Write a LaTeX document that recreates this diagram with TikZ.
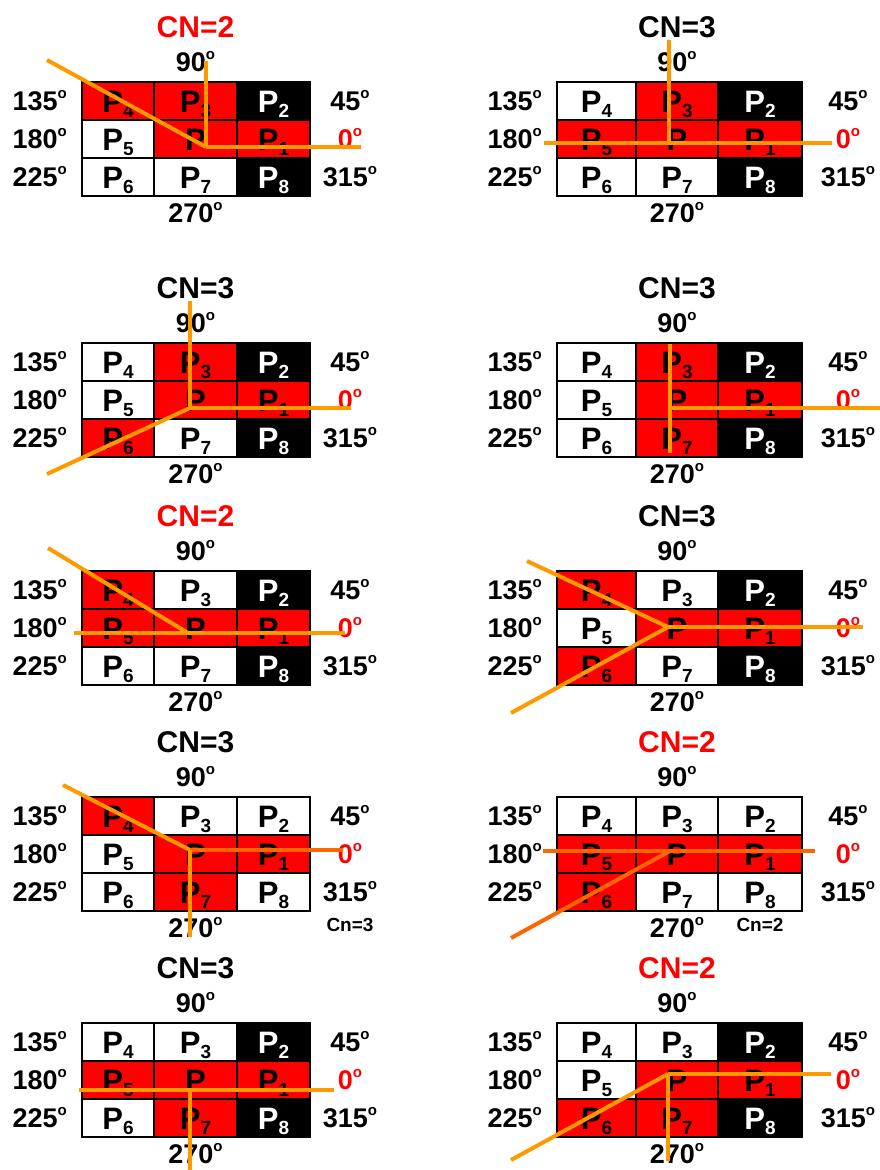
\documentclass[tikz,border=0pt]{standalone}
\usepackage{fontspec}
\setmainfont{Liberation Sans}
\usetikzlibrary{positioning}

\definecolor{orangeR}{RGB}{255,153,0}
\definecolor{orangeF}{RGB}{255,102,0}

\newcommand{\pp}[1]{P\raisebox{-5pt}{\fontsize{19}{19}\selectfont\bfseries #1}}
\newcommand{\degre}{\raisebox{12pt}{\fontsize{15}{15}\selectfont\bfseries o}}

\tikzset{
	cellule/.style={draw=black, line width=1.5pt, minimum height=38pt, inner sep=0pt, outer sep=0pt, text height=23pt, text depth=0pt, font=\fontsize{31}{31}\selectfont\bfseries},
	rouge/.style={fill=red},
	blanc/.style={fill=white},
	noir/.style={fill=black, text=white},
	etiq/.style={inner sep=0pt, font=\fontsize{27}{27}\selectfont\bfseries},
	titre/.style={inner sep=0pt, font=\fontsize{30}{30}\selectfont\bfseries},
	petit/.style={inner sep=0pt, font=\fontsize{19}{19}\selectfont\bfseries},
	rayon/.style={line width=4pt, draw=orangeR},
	rayonfonce/.style={line width=4pt, draw=orangeF},
	gauche/.code={\def\wa{72pt}\def\wb{83pt}\def\wc{73pt}\def\we{40pt}},
	droite/.code={\def\wa{79pt}\def\wb{82pt}\def\wc{84pt}\def\we{46pt}},
}

% une grille 3x3 avec ses angles
\newcommand{\grille}[9]{%
	\node[cellule, #1, minimum width=\wa, anchor=north west] (p4) at (0,0) {\pp{4}};
	\node[cellule, #2, minimum width=\wb, right=0pt of p4] (p3) {\pp{3}};
	\node[cellule, #3, minimum width=\wc, right=0pt of p3] (p2) {\pp{2}};
	\node[cellule, #4, minimum width=\wa, below=0pt of p4] (p5) {\pp{5}};
	\node[cellule, #5, minimum width=\wb, right=0pt of p5] (p0) {P};
	\node[cellule, #6, minimum width=\wc, right=0pt of p0] (p1) {\pp{1}};
	\node[cellule, #7, minimum width=\wa, below=0pt of p5] (p6) {\pp{6}};
	\node[cellule, #8, minimum width=\wb, right=0pt of p6] (p7) {\pp{7}};
	\node[cellule, #9, minimum width=\wc, right=0pt of p7] (p8) {\pp{8}};
	\node[etiq, left=15pt of p4] (a135) {135\degre};
	\node[etiq, left=15pt of p5] (a180) {180\degre};
	\node[etiq, left=15pt of p6] (a225) {225\degre};
	\node[etiq, right=\we of p2, anchor=center] (a45) {45\degre};
	\node[etiq, right=\we of p1, anchor=center, text=red] (a0) {0\degre};
	\node[etiq, right=\we of p8, anchor=center] (a315) {315\degre};
	\node[etiq, above=20pt of p3, anchor=center] (a90) {90\degre};
	\node[etiq, below=17pt of p7, anchor=center] (a270) {270\degre};
}

\begin{document}
\begin{tikzpicture}[x=1pt, y=-1pt]
	\useasboundingbox (0,0) rectangle (880,1170);
	% ligne 1
	\begin{scope}[shift={(82,82)}, gauche, name prefix=a-]
		\grille{rouge}{rouge}{noir}{blanc}{rouge}{rouge}{blanc}{blanc}{noir}
		\node[titre, text=red, above=55pt of p3, anchor=center] (cn) {CN=2};
		\coordinate (v) at (124,65);
		\coordinate (haut) at (124,-21);
		\coordinate (est) at (279,65);
		\coordinate (no) at (-35,-22);
		\draw[rayon] (no) -- (v);
		\draw[rayon] (v) -- (est);
		\draw[rayon] (v) -- (haut);
	\end{scope}
	\begin{scope}[shift={(557,82)}, droite, name prefix=b-]
		\grille{blanc}{rouge}{noir}{rouge}{rouge}{rouge}{blanc}{blanc}{noir}
		\node[titre, above=55pt of p3, anchor=center] (cn) {CN=3};
		\coordinate (v) at (112,61);
		\coordinate (haut) at (112,-42);
		\coordinate (ouest) at (-13,61);
		\coordinate (est) at (275,61);
		\draw[rayon] (ouest) -- (est);
		\draw[rayon] (v) -- (haut);
	\end{scope}
	% ligne 2
	\begin{scope}[shift={(82,343)}, gauche, name prefix=c-]
		\grille{blanc}{rouge}{noir}{blanc}{rouge}{rouge}{rouge}{blanc}{noir}
		\node[titre, above=55pt of p3, anchor=center] (cn) {CN=3};
		\coordinate (v) at (108,65);
		\coordinate (haut) at (108,-42);
		\coordinate (est) at (269,65);
		\coordinate (so) at (-35,131);
		\draw[rayon] (v) -- (haut);
		\draw[rayon] (v) -- (est);
		\draw[rayon] (so) -- (v);
	\end{scope}
	\begin{scope}[shift={(557,343)}, droite, name prefix=d-]
		\grille{blanc}{rouge}{noir}{blanc}{rouge}{rouge}{blanc}{rouge}{noir}
		\node[titre, above=55pt of p3, anchor=center] (cn) {CN=3};
		\coordinate (v) at (113,65);
		\coordinate (haut) at (113,1);
		\coordinate (bas) at (113,110);
		\coordinate (est) at (323,65);
		\draw[rayon] (haut) -- (bas);
		\draw[rayon] (v) -- (est);
	\end{scope}
	% ligne 3
	\begin{scope}[shift={(82,571)}, gauche, name prefix=e-]
		\grille{rouge}{blanc}{noir}{rouge}{rouge}{rouge}{blanc}{blanc}{noir}
		\node[titre, text=red, above=55pt of p3, anchor=center] (cn) {CN=2};
		\coordinate (v) at (106,62);
		\coordinate (no) at (-34,-23);
		\coordinate (ouest) at (-8,62);
		\coordinate (est) at (263,62);
		\draw[rayon] (no) -- (v);
		\draw[rayon] (ouest) -- (est);
	\end{scope}
	\begin{scope}[shift={(557,571)}, droite, name prefix=f-]
		\grille{rouge}{blanc}{noir}{blanc}{rouge}{rouge}{rouge}{blanc}{noir}
		\node[titre, above=55pt of p3, anchor=center] (cn) {CN=3};
		\coordinate (v) at (111,56);
		\coordinate (no) at (-30,-10);
		\coordinate (est) at (306,56);
		\coordinate (so) at (-46,142);
		\draw[rayon] (no) -- (v);
		\draw[rayon] (v) -- (est);
		\draw[rayon] (so) -- (v);
	\end{scope}
	% ligne 4
	\begin{scope}[shift={(82,797)}, gauche, name prefix=g-]
		\grille{rouge}{blanc}{blanc}{blanc}{rouge}{rouge}{blanc}{rouge}{blanc}
		\node[titre, above=55pt of p3, anchor=center] (cn) {CN=3};
		\node[petit] (cnbas) at (268,128) {Cn=3};
		\coordinate (v) at (108,53);
		\coordinate (no) at (-19,-12);
		\coordinate (est) at (261,53);
		\coordinate (bas) at (108,140);
		\draw[rayon] (no) -- (v);
		\draw[rayonfonce] (v) -- (est);
		\draw[rayon] (v) -- (bas);
	\end{scope}
	\begin{scope}[shift={(557,797)}, droite, name prefix=h-]
		\grille{blanc}{blanc}{blanc}{rouge}{rouge}{rouge}{rouge}{blanc}{blanc}
		\node[titre, text=red, above=55pt of p3, anchor=center] (cn) {CN=2};
		\node[petit] (cnbas) at (203,128) {Cn=2};
		\coordinate (v) at (113,54);
		\coordinate (ouest) at (-14,54);
		\coordinate (est) at (258,54);
		\coordinate (so) at (-46,141);
		\draw[rayonfonce] (ouest) -- (est);
		\draw[rayonfonce] (so) -- (v);
	\end{scope}
	% ligne 5
	\begin{scope}[shift={(82,1023)}, gauche, name prefix=i-]
		\grille{blanc}{blanc}{noir}{rouge}{rouge}{rouge}{blanc}{rouge}{noir}
		\node[titre, above=55pt of p3, anchor=center] (cn) {CN=3};
		\coordinate (v) at (108,67);
		\coordinate (ouest) at (-3,67);
		\coordinate (est) at (252,67);
		\coordinate (bas) at (108,147);
		\draw[rayon] (ouest) -- (est);
		\draw[rayon] (v) -- (bas);
	\end{scope}
	\begin{scope}[shift={(557,1023)}, droite, name prefix=j-]
		\grille{blanc}{blanc}{noir}{blanc}{rouge}{rouge}{rouge}{rouge}{noir}
		\node[titre, text=red, above=55pt of p3, anchor=center] (cn) {CN=2};
		\coordinate (v) at (111,51);
		\coordinate (est) at (274,51);
		\coordinate (bas) at (111,138);
		\coordinate (so) at (-46,137);
		\draw[rayon] (v) -- (est);
		\draw[rayon] (v) -- (bas);
		\draw[rayon] (so) -- (v);
	\end{scope}
\end{tikzpicture}
\end{document}
